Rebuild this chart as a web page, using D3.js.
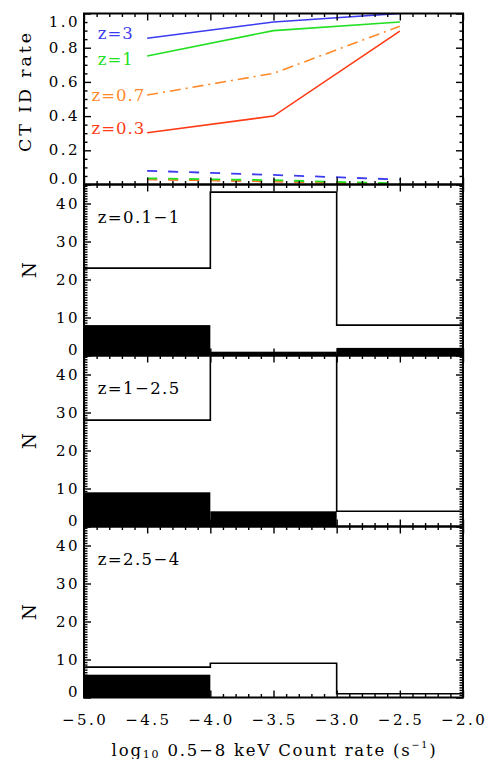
<!DOCTYPE html>
<html>
<head>
<meta charset="utf-8">
<script src="https://cdn.jsdelivr.net/npm/d3@7"></script>
<style>
  body { margin: 0; background: #fff; }
  text { font-family: "DejaVu Serif", serif; }
</style>
</head>
<body>
<div id="chart"></div>
<script>
// ---- data ----
var rateX = [-4.5, -3.5, -2.5];
var rateSeries = [
  {name: "z=3",   color: "#3b3bf0", id: [0.855, 0.95, 1.0],  fal: [0.080, 0.056, 0.029]},
  {name: "z=1",   color: "#22e022", id: [0.751, 0.90, 0.95], fal: [0.036, 0.025, 0.006]},
  {name: "z=0.7", color: "#ff8a2a", id: [0.523, 0.65, 0.925], fal: [0.032, 0.020, 0.002], dashdot: true},
  {name: "z=0.3", color: "#ff3a14", id: [0.303, 0.40, 0.897], fal: [0.030, 0.018, 0.0]}
];
var rateLabelPos = [{x: 97.7, y: 33.5}, {x: 97.7, y: 59.5}, {x: 91.5, y: 95}, {x: 91.5, y: 128.5}];

var binEdges = [-5, -4, -3, -2];
var histLabels = ["z=0.1\u22121", "z=1\u22122.5", "z=2.5\u22124"];
var histAll = [[23, 43, 8], [28, 52, 4], [8, 9, 1]];   // open histograms
var histId  = [[8, 1, 2],   [9, 4, 0],  [6, 0, 0]];    // filled histograms

var xTicks = [-5.0, -4.5, -4.0, -3.5, -3.0, -2.5, -2.0];
var rateTicks = [0.0, 0.2, 0.4, 0.6, 0.8, 1.0];
var nTicks = [0, 10, 20, 30, 40];

// ---- layout ----
var W = 491, H = 759;
var left = 84, right = 463, panelH = 171;
var tops = [13.5, 184.5, 355.5, 526.5];

var svg = d3.select("#chart").append("svg")
  .attr("width", W).attr("height", H);

var x = d3.scaleLinear().domain([-5, -2]).range([left, right]);
var xMinor = d3.range(-5, -1.99, 0.1).map(function(d){ return +d.toFixed(1); })
  .filter(function(d){ return Math.abs(d * 2 - Math.round(d * 2)) > 1e-6; });

function fmt1(d) { return d3.format(".1f")(d).replace("-", "\u2212"); }

function frame(g, y, top, yMajor, yMinor, yFmt) {
  var bottom = top + panelH;
  // x ticks top and bottom
  g.append("g").attr("transform", "translate(0," + bottom + ")")
    .call(d3.axisBottom(x).tickValues(xTicks).tickSize(-7).tickFormat(""));
  g.append("g").attr("transform", "translate(0," + bottom + ")")
    .call(d3.axisBottom(x).tickValues(xMinor).tickSize(-3.5).tickFormat(""));
  g.append("g").attr("transform", "translate(0," + top + ")")
    .call(d3.axisTop(x).tickValues(xTicks).tickSize(-7).tickFormat(""));
  g.append("g").attr("transform", "translate(0," + top + ")")
    .call(d3.axisTop(x).tickValues(xMinor).tickSize(-3.5).tickFormat(""));
  // y ticks left and right
  g.append("g").attr("transform", "translate(" + left + ",0)")
    .call(d3.axisLeft(y).tickValues(yMajor).tickSize(-7).tickFormat(""));
  g.append("g").attr("transform", "translate(" + left + ",0)")
    .call(d3.axisLeft(y).tickValues(yMinor).tickSize(-3.5).tickFormat(""));
  g.append("g").attr("transform", "translate(" + right + ",0)")
    .call(d3.axisRight(y).tickValues(yMajor).tickSize(-7).tickFormat(""));
  g.append("g").attr("transform", "translate(" + right + ",0)")
    .call(d3.axisRight(y).tickValues(yMinor).tickSize(-3.5).tickFormat(""));
  g.selectAll(".domain").remove();
  g.selectAll(".tick line").attr("stroke", "#000").attr("stroke-width", 1.4);
  // y tick labels
  yMajor.forEach(function(v) {
    var ty = Math.max(top + 8.7, Math.min(bottom - 5.5, y(v)));
    g.append("text").attr("x", 80).attr("y", ty)
      .attr("text-anchor", "end").attr("dominant-baseline", "central")
      .attr("font-size", 15).attr("letter-spacing", 2.5)
      .text(yFmt(v));
  });
  // border
  g.append("rect").attr("x", left).attr("y", top)
    .attr("width", right - left).attr("height", panelH)
    .attr("fill", "none").attr("stroke", "#000").attr("stroke-width", 2);
}

// ---- top panel: CT ID rate ----
(function() {
  var top = tops[0];
  var g = svg.append("g");
  var y = d3.scaleLinear().domain([0, 1]).range([top + panelH, top]);
  g.append("clipPath").attr("id", "clip0").append("rect")
    .attr("x", left).attr("y", top).attr("width", right - left).attr("height", panelH);
  var pg = g.append("g").attr("clip-path", "url(#clip0)");
  var line = d3.line().x(function(d){ return x(d[0]); }).y(function(d){ return y(d[1]); });

  // false rates (dashed), drawn first
  rateSeries.slice().reverse().forEach(function(s) {
    pg.append("path").datum(d3.zip(rateX, s.fal)).attr("d", line)
      .attr("fill", "none").attr("stroke", s.color).attr("stroke-width", 1.8)
      .attr("stroke-dasharray", "10,11");
  });
  rateSeries.slice().reverse().forEach(function(s) {
    pg.append("path").datum(d3.zip(rateX, s.id)).attr("d", line)
      .attr("fill", "none").attr("stroke", s.color).attr("stroke-width", 1.6)
      .attr("stroke-dasharray", s.dashdot ? "11,5,2,5" : null);
  });
  rateSeries.forEach(function(s, i) {
    g.append("text").attr("x", rateLabelPos[i].x).attr("y", rateLabelPos[i].y)
      .attr("dominant-baseline", "central").attr("font-size", 16.5)
      .attr("letter-spacing", 1).attr("fill", s.color).text(s.name);
  });

  var minor = d3.range(0, 1.001, 0.05).map(function(d){ return +d.toFixed(2); })
    .filter(function(d){ return Math.abs(d * 5 - Math.round(d * 5)) > 1e-6; });
  frame(g, y, top, rateTicks, minor, function(v){ return d3.format(".1f")(v); });

  g.append("text").attr("transform", "translate(25," + 92.5 + ") rotate(-90)")
    .attr("text-anchor", "middle").attr("dominant-baseline", "central")
    .attr("font-size", 17.5).attr("textLength", 119).attr("lengthAdjust", "spacing")
    .text("CT ID rate");
})();

// ---- histogram panels ----
histLabels.forEach(function(label, k) {
  var top = tops[k + 1];
  var g = svg.append("g");
  var y = d3.scaleLinear().domain([0, 45]).range([top + panelH, top]);
  g.append("clipPath").attr("id", "clip" + (k + 1)).append("rect")
    .attr("x", left).attr("y", top).attr("width", right - left).attr("height", panelH);
  var pg = g.append("g").attr("clip-path", "url(#clip" + (k + 1) + ")");

  pg.selectAll("rect.fill").data(histId[k]).enter().append("rect")
    .attr("x", function(d, i){ return x(binEdges[i]); })
    .attr("y", function(d){ return y(d); })
    .attr("width", function(d, i){ return x(binEdges[i + 1]) - x(binEdges[i]); })
    .attr("height", function(d){ return y(0) - y(d); })
    .attr("fill", "#000");

  var pts = histAll[k].map(function(v, i){ return [binEdges[i], v]; });
  pts.push([binEdges[binEdges.length - 1], histAll[k][histAll[k].length - 1]]);
  pg.append("path").datum(pts)
    .attr("d", d3.line().curve(d3.curveStepAfter)
      .x(function(d){ return x(d[0]); }).y(function(d){ return y(d[1]); }))
    .attr("fill", "none").attr("stroke", "#000").attr("stroke-width", 1.6);

  var minor = d3.range(0, 45.01, 10 / 15).filter(function(d){
    return Math.abs(d / 10 - Math.round(d / 10)) > 1e-6; });
  frame(g, y, top, nTicks, minor, function(v){ return String(v); });

  g.append("text").attr("x", 97.7).attr("y", top + 32.7)
    .attr("dominant-baseline", "central").attr("font-size", 16.5)
    .attr("letter-spacing", 1.4).text(label);

  g.append("text").attr("transform", "translate(29.5," + (top + panelH / 2) + ") rotate(-90)")
    .attr("text-anchor", "middle").attr("dominant-baseline", "central")
    .attr("font-size", 18).text("N");
});

// ---- x tick labels and title ----
var bottom = tops[3] + panelH;
svg.selectAll("text.xt").data(xTicks).enter().append("text")
  .attr("x", function(d){ return x(d) + 1.2; }).attr("y", bottom + 22.5)
  .attr("text-anchor", "middle").attr("dominant-baseline", "central")
  .attr("font-size", 15).attr("letter-spacing", 2.5)
  .text(fmt1);

var title = svg.append("text").attr("x", (left + right) / 2 + 1).attr("y", 750)
  .attr("text-anchor", "middle").attr("dominant-baseline", "central")
  .attr("font-size", 16.5).attr("letter-spacing", 1.8);
title.append("tspan").text("log");
title.append("tspan").attr("font-size", 11).attr("dy", 4).text("10");
title.append("tspan").attr("dy", -4).text(" 0.5\u22128 keV Count rate (s");
title.append("tspan").attr("font-size", 9.5).attr("dy", -6).text("\u22121");
title.append("tspan").attr("dy", 6).text(")");
</script>
</body>
</html>
